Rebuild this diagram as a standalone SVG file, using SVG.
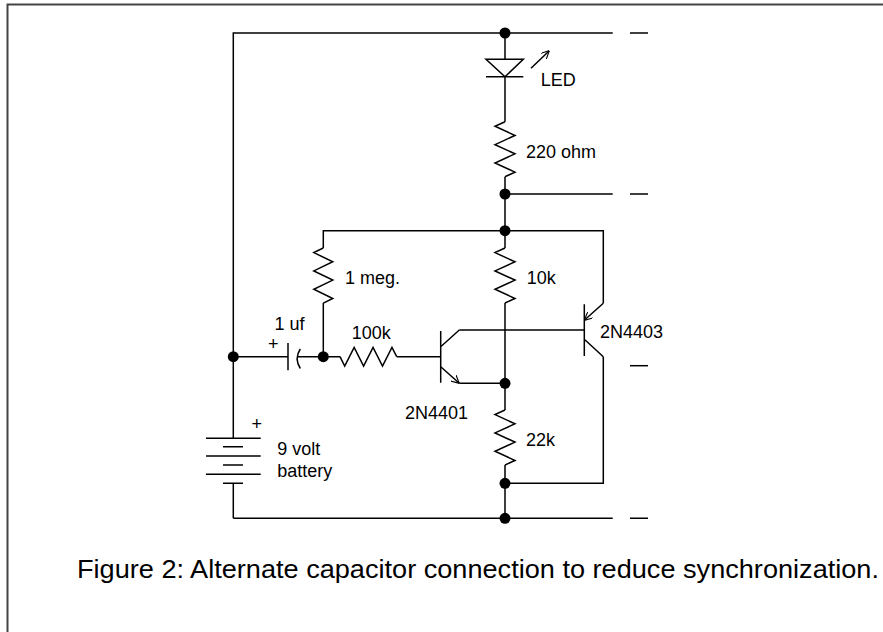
<svg xmlns="http://www.w3.org/2000/svg" width="883" height="632" viewBox="0 0 883 632">
<defs>
<style>
.w{fill:none;stroke:#000;stroke-width:1.5;stroke-linecap:butt;stroke-linejoin:miter}
.dot{fill:#000}
.t{font-family:"Liberation Sans",Arial,sans-serif;font-size:18px;fill:#000}
.cap{font-family:"Liberation Sans",Arial,sans-serif;font-size:26px;fill:#000}
.frame{fill:none;stroke:#444;stroke-width:2}
</style>
<marker id="arr" viewBox="0 0 10 10" refX="10" refY="5" markerWidth="8" markerHeight="8" markerUnits="userSpaceOnUse" orient="auto">
<path d="M0,0 L10,5 L0,10" fill="none" stroke="#000" stroke-width="1.4"/>
</marker>
</defs>
<rect width="883" height="632" fill="#fff"/>
<path class="frame" d="M7.5,632 V4.5 H883"/>

<g id="connectors" class="w">
<path d="M233.3,518.3 V483.3 M233.3,438.3 V33 H612.7"/>
<path d="M630,33 H648"/>
<path d="M505,33 V59.3 M505,76.7 V121.7 M505,176.7 V248 M505,303 V410 M505,465 V518.3"/>
<path d="M505,194 H612.7 M630,194 H648"/>
<path d="M233.3,518.3 H612.7 M630,518.3 H648"/>
<path d="M323.3,248 V230.7 H603.3 V303.3"/>
<path d="M323.3,303 V356.7"/>
<path d="M233.3,356.7 H288 M297.5,356.7 H340 M396.7,356.7 H440.7"/>
<path d="M459.3,330 H584.3"/>
<path d="M459.3,383.3 H505"/>
<path d="M603.3,356.7 V483.3 H505"/>
<path d="M630,365.7 H648"/>
</g>

<g id="junctions">
<circle class="dot" cx="505" cy="33" r="5.5"/>
<circle class="dot" cx="505" cy="194" r="5.5"/>
<circle class="dot" cx="505" cy="230.7" r="5.5"/>
<circle class="dot" cx="233.3" cy="356.7" r="5.5"/>
<circle class="dot" cx="323.3" cy="356.7" r="5.5"/>
<circle class="dot" cx="505" cy="383.3" r="5.5"/>
<circle class="dot" cx="505" cy="483.3" r="5.5"/>
<circle class="dot" cx="505" cy="518.3" r="5.5"/>
</g>

<g id="led">
<path class="w" d="M486,59.3 H523.3 L505,76.7 Z M486,76.7 H523.3"/>
<path class="w" d="M531,68.3 L549.3,50.7" marker-end="url(#arr)"/>
<text class="t" x="540.7" y="85.7">LED</text>
</g>

<g id="r220">
<path class="w" d="M505,121.7 l-10,4.6 l20,9.17 l-20,9.17 l20,9.17 l-20,9.17 l20,9.17 l-10,4.6"/>
<text class="t" x="526" y="158.3">220 ohm</text>
</g>

<g id="r1meg">
<path class="w" d="M323.3,248 l-9.5,4.6 l19,9.17 l-19,9.17 l19,9.17 l-19,9.17 l19,9.17 l-9.5,4.6"/>
<text class="t" x="345" y="284">1 meg.</text>
</g>

<g id="r10k">
<path class="w" d="M505,248 l-10,4.6 l20,9.17 l-20,9.17 l20,9.17 l-20,9.17 l20,9.17 l-10,4.6"/>
<text class="t" x="526.7" y="284">10k</text>
</g>

<g id="r22k">
<path class="w" d="M505,410 l-10,4.6 l20,9.17 l-20,9.17 l20,9.17 l-20,9.17 l20,9.17 l-10,4.6"/>
<text class="t" x="526" y="446">22k</text>
</g>

<g id="r100k">
<path class="w" d="M340,356.7 l4.7,9.3 l9.45,-18.6 l9.45,18.6 l9.45,-18.6 l9.45,18.6 l9.45,-18.6 l4.75,9.3"/>
<text class="t" x="351.7" y="339">100k</text>
</g>

<g id="c1uf">
<path class="w" d="M288,343 V370.3"/>
<path class="w" d="M300.3,349 Q294,358.5 300.3,368.5"/>
<text class="t" x="274.5" y="330">1 uf</text>
<text class="t" x="268" y="349.5">+</text>
</g>

<g id="q2n4401">
<path class="w" d="M440.7,331 V382.7 M440.7,346.7 L459.3,330"/>
<path class="w" d="M440.7,366.7 L459.3,383.3" marker-end="url(#arr)"/>
<text class="t" x="405" y="419.3">2N4401</text>
</g>

<g id="q2n4403">
<path class="w" d="M584.3,304.3 V356 M584.3,339.3 L603.3,356.7"/>
<path class="w" d="M603.3,303.3 L584.3,320.3" marker-end="url(#arr)"/>
<text class="t" x="600" y="338">2N4403</text>
</g>

<g id="battery">
<path class="w" d="M206,438.3 H260.7 M223,446.7 H243 M206,456 H260.7 M223,465 H243 M206,474.3 H260.7 M223,483.3 H243"/>
<text class="t" x="251.5" y="430">+</text>
<text class="t" x="277.3" y="455">9 volt</text>
<text class="t" x="277.3" y="476.7">battery</text>
</g>

<g id="caption">
<text class="cap" x="77" y="578" textLength="802" lengthAdjust="spacingAndGlyphs">Figure 2: Alternate capacitor connection to reduce synchronization.</text>
</g>
</svg>
